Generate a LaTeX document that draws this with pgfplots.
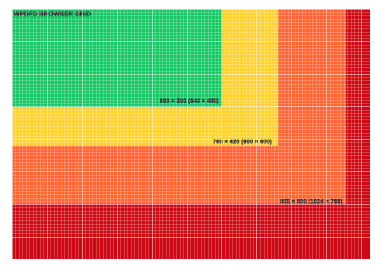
\documentclass[border=0pt]{standalone}
\usepackage{pgfplots}
\pgfplotsset{compat=1.18}
\usepackage{fontspec}
\setmainfont{Liberation Sans}
\newfontfamily\labfont[FakeBold=1.6]{Liberation Sans Bold}
\definecolor{cgreen}{RGB}{24,200,100}
\definecolor{cyellow}{RGB}{255,210,50}
\definecolor{corange}{RGB}{255,100,50}
\definecolor{cred}{RGB}{205,10,20}
\begin{document}
\begin{tikzpicture}
\begin{axis}[
  at={(0,0)}, anchor=south west,
  width=358bp, height=250bp, scale only axis,
  xmin=0, xmax=1024, ymin=0, ymax=768,
  y dir=reverse,
  axis on top,
  axis line style={draw=none},
  tick style={draw=none},
  xtick={0,100,...,1000}, ytick={0,100,...,700},
  minor x tick num=9, minor y tick num=9,
  xticklabels={}, yticklabels={},
  grid=both,
  major grid style={white, opacity=0.5, line width=0.6pt},
  minor grid style={white, opacity=0.2, line width=0.4pt},
  clip=true,
]
\addplot[fill=cred, draw=none] coordinates {(0,768) (1024,768)} \closedcycle;
\addplot[fill=corange, draw=none] coordinates {(0,600) (955,600)} \closedcycle;
\addplot[fill=cyellow, draw=none] coordinates {(0,420) (760,420)} \closedcycle;
\addplot[fill=cgreen, draw=none] coordinates {(0,300) (600,300)} \closedcycle;
\tikzset{lab/.style={inner sep=0pt, font=\labfont\fontsize{6}{7}\selectfont, text=black!85}}
\node[lab, anchor=west, font=\labfont\fontsize{6.5}{7}\selectfont] at (axis cs:4,15) {WPDFD BROWSER GRID};
\node[lab, anchor=east] at (axis cs:592,283) {600 × 300 (640 × 480)};
\node[lab, anchor=east] at (axis cs:744,408) {760 × 420 (800 × 600)};
\node[lab, anchor=east] at (axis cs:946,592) {955 × 600 (1024 × 768)};
\end{axis}
\useasboundingbox (-12bp,0) rectangle (364bp,259bp);
\end{tikzpicture}
\end{document}
